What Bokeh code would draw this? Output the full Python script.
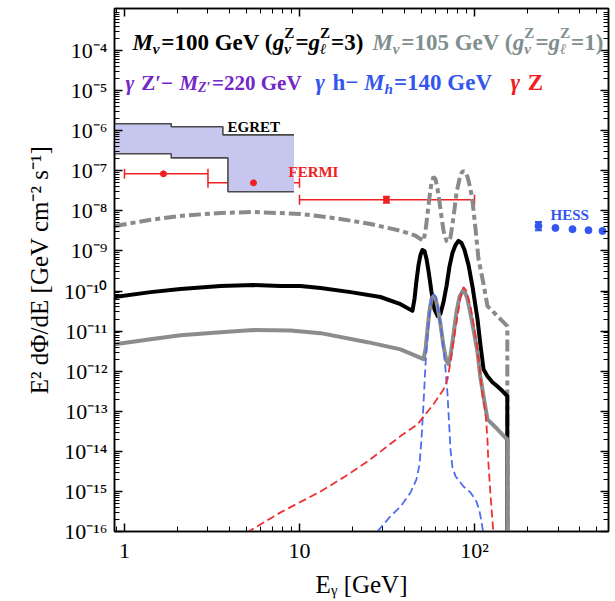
from bokeh.plotting import figure
from bokeh.models import (Range1d, FixedTicker, LogAxis, CustomJSTickFormatter,
                          Label, Whisker, TeeHead, ColumnDataSource)
from bokeh.embed import file_html
from bokeh.resources import INLINE

# ---------------- data ----------------
# M_nu = 100 GeV (g = 3) : black solid
black_E = [0.88, 1.41, 2.09, 3.54, 5.46, 7.8, 10.1, 13.2, 19.6, 29.0, 37.8, 44.2,
           45.4, 46.6, 47.9, 49.1, 50.4, 51.8, 53.2, 54.6, 56.8, 59.1, 61.5, 63.9,
           66.5, 69.2, 71.9, 74.8, 77.9, 81.0, 84.3, 87.7, 92.4, 97.5, 104, 108,
           112.6, 118.6, 126.7, 135, 144.5, 154, 154]
black_F = [7.1e-11, 9.4e-11, 1.12e-10, 1.33e-10, 1.41e-10, 1.33e-10, 1.33e-10, 1.19e-10,
           9.4e-11, 7.1e-11, 4.7e-11, 3.2e-11,
           6.3e-11, 1.78e-10, 4.5e-10, 7.9e-10, 1.06e-9, 1.0e-9, 6.3e-10, 3.2e-10,
           9.4e-11, 3.5e-11, 2.4e-11, 2.7e-11, 5.3e-11, 1.33e-10, 4.0e-10, 8.9e-10,
           1.41e-9, 1.78e-9, 1.58e-9, 1.06e-9, 4.5e-10, 1.26e-10, 2.0e-11, 4.7e-12,
           1.12e-12, 7.5e-13, 5.3e-13, 4.2e-13, 3.2e-13, 2.4e-13, 1e-18]

# M_nu = 105 GeV (g = 1) : grey solid
grey_E = [0.88, 1.41, 2.09, 3.54, 5.46, 8.9, 13.2, 24.5, 37.8, 51.1, 52.5, 53.9, 55.3,
          56.8, 58.3, 59.8, 61.5, 63.9, 66.5, 69.2, 71.0, 72.9, 75.9, 78.9, 82.1,
          85.4, 87.7, 91.2, 94.9, 100, 104, 108, 112.6, 118.6, 131.8, 150, 154, 154]
grey_F = [4.7e-12, 6.3e-12, 7.9e-12, 9.4e-12, 1.06e-11, 1.03e-11, 8.9e-12, 5.3e-12,
          3.5e-12, 2.0e-12, 3.5e-12, 1.12e-11, 3.2e-11, 6.3e-11, 7.5e-11, 6.7e-11,
          4.0e-11, 1.5e-11, 4.2e-12, 1.78e-12, 1.5e-12, 2.4e-12, 8.4e-12, 3.0e-11,
          7.1e-11, 1.0e-10, 1.0e-10, 6.3e-11, 2.7e-11, 7.9e-12, 3.0e-12, 7.1e-13,
          2.4e-13, 6.3e-14, 4.0e-14, 2.2e-14, 2.0e-14, 1e-18]

# grey dash-dot
dd_E = [0.88, 1.41, 2.09, 3.54, 5.46, 10.1, 17.1, 25.5, 37.8, 46.0, 51.1, 52.5, 53.9,
        55.3, 56.8, 58.3, 59.8, 61.5, 63.1, 64.8, 66.5, 69.2, 71.0, 72.9, 74.8, 76.9,
        78.9, 82.1, 84.3, 86.5, 88.9, 91.2, 94.9, 97.5, 101.4, 105.4, 112.6, 118.6,
        135, 154, 154]
dd_F = [4.2e-9, 6.0e-9, 7.5e-9, 8.9e-9, 9.4e-9, 8.4e-9, 6.3e-9, 4.7e-9, 3.2e-9, 2.4e-9,
        1.78e-9, 3.2e-9, 8.4e-9, 2.2e-8, 5.0e-8, 7.1e-8, 6.3e-8, 3.5e-8, 1.68e-8,
        7.1e-9, 3.2e-9, 1.78e-9, 1.68e-9, 2.2e-9, 4.5e-9, 1.12e-8, 2.8e-8, 6.3e-8,
        8.9e-8, 1.0e-7, 8.9e-8, 7.1e-8, 3.5e-8, 1.68e-8, 3.5e-9, 6.3e-10, 1.5e-10,
        4.2e-11, 2.4e-11, 1.33e-11, 1e-18]

# gamma h, M_h = 140 GeV : blue dashed
h_E = [27.9, 33.1, 37.8, 43.1, 46.6, 48.5, 49.8, 50.4, 51.1, 51.8, 52.5, 53.9, 55.3,
       56.8, 58.3, 59.8, 61.5, 63.9, 66.5, 68.3, 70.1, 71.9, 72.9, 74.8, 77.9, 86.5,
       94.9, 102.6, 106.8, 109.6, 112.6]
h_F = [1.0e-16, 2.4e-16, 4.2e-16, 9.4e-16, 2.0e-15, 4.7e-15, 2.0e-14, 5.3e-14, 1.5e-13,
       4.7e-13, 1.5e-12, 7.5e-12, 2.7e-11, 6.3e-11, 8.4e-11, 7.5e-11, 4.7e-11, 1.5e-11,
       3.5e-12, 1.12e-12, 2.7e-13, 3.5e-14, 1.12e-14, 4.0e-15, 2.4e-15, 1.33e-15,
       9.4e-16, 5.6e-16, 3.2e-16, 1.78e-16, 8.4e-17]

# gamma Z : red dashed
z_E = [5.0, 7.8, 13.2, 18.3, 24.5, 37.8, 47.2, 58.3, 66.5, 70.1, 72.9, 75.9, 80.0,
       83.2, 86.5, 90.0, 94.9, 100, 104, 108, 111, 115.6, 118.6, 120, 123.4, 128.4]
z_F = [9.4e-17, 3.0e-16, 1.0e-15, 2.4e-15, 5.6e-15, 2.4e-14, 4.7e-14, 1.5e-13, 3.5e-13,
       6.3e-13, 1.68e-12, 5.6e-12, 2.4e-11, 7.1e-11, 1.26e-10, 1.0e-10, 4.2e-11,
       1.12e-11, 3.5e-12, 8.4e-13, 2.4e-13, 9.4e-14, 2.0e-14, 5.3e-15, 8.4e-16, 8.4e-17]

# EGRET band (bin edges and upper / lower values)
egret_up_edges = [0.8, 1.85, 3.65, 9.3]
egret_up = [1.5e-6, 1.26e-6, 7.9e-7]
egret_lo_edges = [0.8, 1.85, 3.9, 9.3]
egret_lo = [2.66e-7, 2.1e-7, 3.0e-8]

# FERMI points
fermi_E = [1.67, 5.46, 31.4]
fermi_F = [8.4e-8, 5.0e-8, 1.9e-8]
fermi_lo = [1.0, 3.0, 10.0]
fermi_hi = [3.0, 10.0, 100.0]

# HESS points
hess_E = [232, 290, 363, 448, 539]
hess_F = [4.2e-9, 3.76e-9, 3.5e-9, 3.3e-9, 3.16e-9]

# ---------------- figure ----------------
SERIF = "Liberation Serif"
p = figure(width=611, height=600, x_axis_type="log", y_axis_type="log",
           x_range=Range1d(0.877, 583), y_range=Range1d(1e-16, 10 ** -2.95),
           output_backend="svg", toolbar_location=None,
           min_border_left=114, min_border_right=3, min_border_top=8, min_border_bottom=69)
p.xgrid.visible = False
p.ygrid.visible = False
p.outline_line_color = "black"
p.outline_line_width = 1.5
p.background_fill_color = "white"
p.border_fill_color = "white"

x_ticks = [1, 10, 100]
x_minor = [k * 10 ** n for n in range(-1, 3) for k in range(2, 10)]
y_ticks = [10.0 ** n for n in range(-16, -3)]
y_minor = [k * 10.0 ** n for n in range(-17, -2) for k in range(2, 10)]

sup_code = """
const s = {'-':'\u207b','0':'\u2070','1':'\u00b9','2':'\u00b2','3':'\u00b3','4':'\u2074',
           '5':'\u2075','6':'\u2076','7':'\u2077','8':'\u2078','9':'\u2079'};
const e = Math.round(Math.log10(tick));
if (ALLOW && e == 0) return '1';
if (ALLOW && e == 1) return '10';
return '10' + String(e).split('').map(c => s[c]).join('');
"""


def style(ax, ticks, minor):
    ax.ticker = FixedTicker(ticks=ticks, minor_ticks=minor)
    ax.major_tick_in = 8
    ax.major_tick_out = 0
    ax.minor_tick_in = 5
    ax.minor_tick_out = 0
    ax.axis_line_width = 1.5
    ax.axis_line_color = "black"
    ax.major_tick_line_width = 1.5
    ax.major_tick_line_color = "black"
    ax.minor_tick_line_width = 1
    ax.minor_tick_line_color = "black"
    ax.major_label_text_font = SERIF
    ax.major_label_text_font_size = "22px"
    ax.major_label_text_color = "black"
    ax.axis_label_text_font = SERIF
    ax.axis_label_text_font_style = "normal"
    ax.axis_label_text_font_size = "25px"
    ax.axis_label_text_color = "black"


style(p.xaxis[0], x_ticks, x_minor)
style(p.yaxis[0], y_ticks, y_minor)
p.xaxis[0].formatter = CustomJSTickFormatter(code=sup_code.replace("ALLOW", "true"))
p.yaxis[0].formatter = CustomJSTickFormatter(code=sup_code.replace("ALLOW", "false"))
p.xaxis[0].major_label_standoff = 6
p.yaxis[0].major_label_standoff = 7
p.xaxis[0].axis_label = "E\u1d67 [GeV]"
p.yaxis[0].axis_label = "E\u00b2 d\u03a6/dE [GeV cm\u207b\u00b2 s\u207b\u00b9]"
p.xaxis[0].axis_label_standoff = 5
p.yaxis[0].axis_label_standoff = 8

for side, ticks, minor in (("right", y_ticks, y_minor), ("above", x_ticks, x_minor)):
    ax = LogAxis()
    style(ax, ticks, minor)
    ax.formatter = CustomJSTickFormatter(code="return '';")
    ax.major_label_text_font_size = "0px"
    ax.major_label_standoff = 0
    p.add_layout(ax, side)

# EGRET band
band_x = []
band_y = []
for i, v in enumerate(egret_up):
    band_x += [egret_up_edges[i], egret_up_edges[i + 1]]
    band_y += [v, v]
lo_x = []
lo_y = []
for i, v in enumerate(egret_lo):
    lo_x += [egret_lo_edges[i], egret_lo_edges[i + 1]]
    lo_y += [v, v]
p.patch(band_x + lo_x[::-1], band_y + lo_y[::-1], fill_color="#c6c6ee", line_color=None)
p.line(band_x, band_y, line_color="#4a4a4a", line_width=1.6)
p.line(lo_x, lo_y, line_color="#4a4a4a", line_width=1.6)

# model curves
p.line(dd_E, dd_F, line_color="#8a8a8a", line_width=4, line_dash="12 4 5 4")
p.line(black_E, black_F, line_color="black", line_width=4, line_join="round")
p.line(grey_E, grey_F, line_color="#8c8c8c", line_width=4, line_join="round")
p.line(h_E, h_F, line_color="#4f6cf0", line_width=1.8, line_dash="8 4")
p.line(z_E, z_F, line_color="#f03030", line_width=1.8, line_dash="8 4")

# FERMI
RED = "#f02020"
fs = ColumnDataSource(dict(E=fermi_E, F=fermi_F, lo=fermi_lo, hi=fermi_hi))
p.add_layout(Whisker(source=fs, base="F", lower="lo", upper="hi", dimension="width",
                     line_color=RED, line_width=1.5,
                     lower_head=TeeHead(size=10, line_color=RED, line_width=1.5),
                     upper_head=TeeHead(size=10, line_color=RED, line_width=1.5)))
p.scatter(fermi_E, fermi_F, marker="circle", size=6, color=RED)
f3 = ColumnDataSource(dict(E=fermi_E[2:], lo=[1.6e-8], hi=[2.25e-8]))
p.add_layout(Whisker(source=f3, base="E", lower="lo", upper="hi", dimension="height",
                     line_color=RED, line_width=2,
                     lower_head=TeeHead(size=7, line_color=RED, line_width=2),
                     upper_head=TeeHead(size=7, line_color=RED, line_width=2)))

# HESS
BLUE = "#3556ee"
h3 = ColumnDataSource(dict(E=hess_E[:1], lo=[3.3e-9], hi=[5.3e-9]))
p.add_layout(Whisker(source=h3, base="E", lower="lo", upper="hi", dimension="height",
                     line_color=BLUE, line_width=2,
                     lower_head=TeeHead(size=7, line_color=BLUE, line_width=2),
                     upper_head=TeeHead(size=7, line_color=BLUE, line_width=2)))
p.scatter(hess_E, hess_F, marker="circle", size=7, color=BLUE)

# labels of data sets
for txt, x, y, c in (("EGRET", 3.88, 10 ** -5.9, "black"),
                     ("FERMI", 8.65, 10 ** -7.03, RED),
                     ("HESS", 272, 10 ** -8.1, BLUE)):
    p.add_layout(Label(x=x, y=y, text=txt, text_font=SERIF, text_font_size="15px",
                       text_font_style="bold", text_color=c, text_baseline="alphabetic"))

# ---------------- rich-text legend ----------------
TW_B = {' ': 250, '(': 333, ')': 333, '=': 570, 'G': 778, 'e': 444, 'V': 722, 'M': 944,
        'Z': 667, 'h': 556, '\u2032': 333, '\u2212': 570, '\u03b3': 520, '\u03bd': 500,
        '\u2113': 420, 'g': 500}
TW_I = {'M': 889, 'g': 500, '\u03bd': 500, 'h': 556, 'Z': 611, '\u2113': 420, '\u03b3': 500}


def tw(s, italic):
    t = TW_I if italic else TW_B
    return sum(t.get(c, TW_B.get(c, 500)) for c in s) / 1000.0


def rich(x0, y0, segs, color, size):
    off = 0.0
    for seg in segs:
        kind = seg[0]
        if kind in ("n", "i"):
            raw = seg[1]
            body = raw.lstrip(" ")
            lead = len(raw) - len(body)
            off += lead * TW_B[' '] / 1000.0 * size
            core = body.rstrip(" ")
            trail = len(body) - len(core)
            p.add_layout(Label(x=x0, y=y0, x_offset=off, text=core, text_font=SERIF,
                               text_font_size=f"{size}px",
                               text_font_style="bold italic" if kind == "i" else "bold",
                               text_color=color, text_baseline="alphabetic"))
            off += tw(core, kind == "i") * size + trail * TW_B[' '] / 1000.0 * size
        else:
            sub, sup = seg[1], seg[2]
            fsz = round(0.66 * size, 1)
            w = 0.0
            if sub:
                p.add_layout(Label(x=x0, y=y0, x_offset=off, y_offset=-0.24 * size, text=sub,
                                   text_font=SERIF, text_font_size=f"{fsz}px",
                                   text_font_style="bold italic", text_color=color,
                                   text_baseline="alphabetic"))
                w = max(w, tw(sub, True) * fsz)
            if sup:
                p.add_layout(Label(x=x0, y=y0, x_offset=off, y_offset=0.42 * size, text=sup,
                                   text_font=SERIF, text_font_size=f"{fsz}px",
                                   text_font_style="bold", text_color=color,
                                   text_baseline="alphabetic"))
                w = max(w, tw(sup, False) * fsz)
            off += w + 0.04 * size


rich(1.11, 10 ** -3.8, [("i", "M"), ("s", "\u03bd", None), ("n", "=100 GeV ("), ("i", "g"),
                        ("s", "\u03bd", "Z"), ("n", "="), ("i", "g"), ("s", "\u2113", "Z"),
                        ("n", "=3)")], "black", 23)
rich(26.1, 10 ** -3.8, [("i", "M"), ("s", "\u03bd", None), ("n", "=105 GeV ("), ("i", "g"),
                        ("s", "\u03bd", "Z"), ("n", "="), ("i", "g"), ("s", "\u2113", "Z"),
                        ("n", "=1)")], "#7f8e8e", 23)
rich(1.013, 10 ** -4.8, [("i", "\u03b3"), ("n", " Z\u2032\u2212 "), ("i", "M"),
                         ("s", "Z\u2032", None), ("n", "=220 GeV")], "#7428c8", 21)
rich(12.3, 10 ** -4.8, [("i", "\u03b3"), ("n", " h\u2212 "), ("i", "M"), ("s", "h", None),
                        ("n", "=140 GeV")], BLUE, 23)
rich(160.7, 10 ** -4.8, [("i", "\u03b3"), ("n", " Z")], RED, 23)

open("out.html", "w").write(file_html(p, INLINE))
